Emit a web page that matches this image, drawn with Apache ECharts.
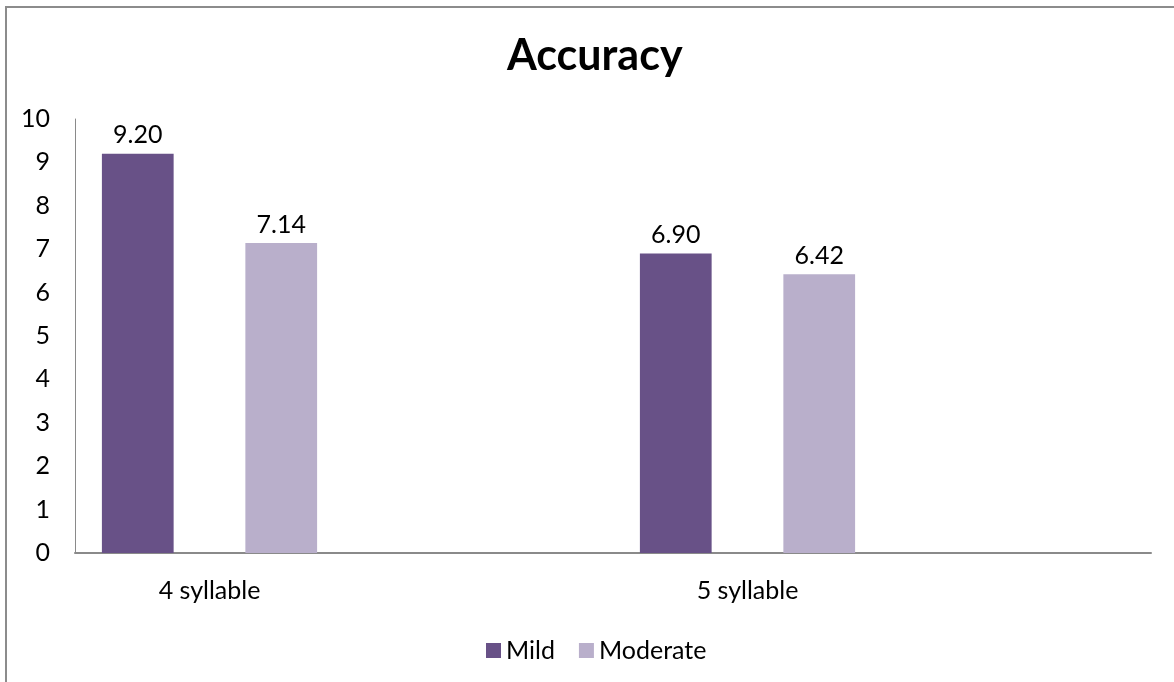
<!DOCTYPE html>
<html>
<head>
<meta charset="utf-8">
<title>Accuracy</title>
<script src="https://cdn.jsdelivr.net/npm/echarts@6/dist/echarts.min.js"></script>
<style>
  html, body { margin: 0; padding: 0; background: #ffffff; }
  #chart { width: 1174px; height: 682px; }
</style>
</head>
<body>
<div id="chart"></div>
<script>
// Category slots: each labelled group is followed by an unlabelled slot
const categories = ['4 syllable', '', '5 syllable', ''];
const mildValues = [9.20, null, 6.90, null];
const moderateValues = [7.14, null, 6.42, null];
const seriesNames = ['Mild', 'Moderate'];
const yMin = 0;
const yMax = 10;
const yStep = 1;

const FONT = 'Lato, "Open Sans", sans-serif';
const TEXT_SIZE = 25;
const MILD_COLOR = '#685187';
const MODERATE_COLOR = '#b9afcb';
const AXIS_COLOR = '#8a8a8a';

const valueLabel = {
  show: true,
  position: 'top',
  distance: 6,
  color: '#000000',
  fontFamily: FONT,
  fontSize: TEXT_SIZE,
  formatter: p => (p.value == null ? '' : Number(p.value).toFixed(2))
};

const chart = echarts.init(document.getElementById('chart'), null, { renderer: 'canvas' });

chart.setOption({
  backgroundColor: '#ffffff',
  animation: false,
  title: {
    text: 'Accuracy',
    left: 502,
    top: 30,
    textStyle: {
      fontFamily: FONT,
      fontWeight: 'bold',
      fontSize: 43,
      color: '#000000'
    }
  },
  legend: {
    data: seriesNames,
    left: 481,
    top: 633,
    itemWidth: 15,
    itemHeight: 15,
    itemGap: 24,
    icon: 'rect',
    textStyle: {
      fontFamily: FONT,
      fontSize: TEXT_SIZE,
      color: '#000000'
    }
  },
  grid: {
    left: 75,
    right: 23,
    top: 119,
    bottom: 129
  },
  xAxis: {
    type: 'category',
    data: categories,
    axisTick: { show: false },
    axisLine: { lineStyle: { color: AXIS_COLOR, width: 2 } },
    axisLabel: {
      interval: 0,
      margin: 25,
      color: '#000000',
      fontFamily: FONT,
      fontSize: TEXT_SIZE
    },
    splitLine: { show: false }
  },
  yAxis: {
    type: 'value',
    min: yMin,
    max: yMax,
    interval: yStep,
    axisLine: { show: true, lineStyle: { color: AXIS_COLOR, width: 1 } },
    axisTick: { show: false },
    splitLine: { show: false },
    axisLabel: {
      margin: 25,
      color: '#000000',
      fontFamily: FONT,
      fontSize: TEXT_SIZE
    }
  },
  series: [
    {
      name: seriesNames[0],
      type: 'bar',
      data: mildValues,
      itemStyle: { color: MILD_COLOR },
      barGap: '100%',
      barCategoryGap: '20%',
      label: valueLabel
    },
    {
      name: seriesNames[1],
      type: 'bar',
      data: moderateValues,
      itemStyle: { color: MODERATE_COLOR },
      barGap: '100%',
      barCategoryGap: '20%',
      label: valueLabel
    }
  ],
  graphic: [
    {
      type: 'rect',
      silent: true,
      shape: { x: 6, y: 7, width: 1200, height: 700 },
      style: { fill: null, stroke: '#8c8c8c', lineWidth: 2 }
    }
  ]
});
</script>
</body>
</html>
